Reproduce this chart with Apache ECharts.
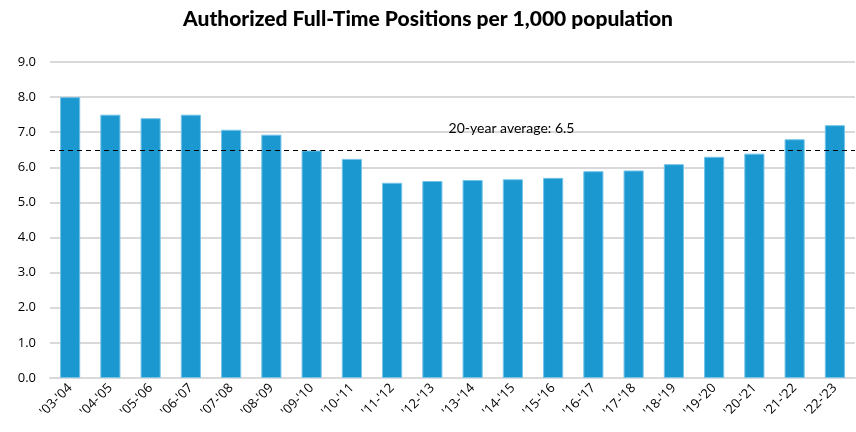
<!DOCTYPE html>
<html><head><meta charset="utf-8">
<script src="https://cdn.jsdelivr.net/npm/echarts@6/dist/echarts.min.js"></script>
<style>html,body{margin:0;padding:0;background:#fff}#c{width:856px;height:432px}</style>
</head><body><div id="c"></div>
<script>
const categories = ["'03-'04","'04-'05","'05-'06","'06-'07","'07-'08","'08-'09","'09-'10","'10-'11","'11-'12","'12-'13","'13-'14","'14-'15","'15-'16","'16-'17","'17-'18","'18-'19","'19-'20","'20-'21","'21-'22","'22-'23"];
const positions = [8.0,7.5,7.4,7.5,7.07,6.93,6.48,6.24,5.56,5.61,5.64,5.66,5.70,5.89,5.91,6.09,6.30,6.39,6.80,7.20];
const average = 6.5;
const averageLabel = "20-year average: 6.5";
const titleText = "Authorized Full-Time Positions per 1,000 population";

const chart = echarts.init(document.getElementById('c'));
chart.setOption({
  animation: false,
  title: {text: titleText, left: 'center', top: 4,
    textStyle: {fontFamily: 'Lato', fontWeight: 900, fontSize: 21, color: '#000'}},
  grid: {left: 50, right: 1, top: 62, bottom: 54},
  xAxis: {type: 'category', data: categories,
    axisLine: {lineStyle: {color: '#d9d9d9', width: 2}},
    axisTick: {show: false},
    axisLabel: {rotate: 45, interval: 0, fontFamily: 'Open Sans', fontSize: 13, color: '#000', margin: 8}},
  yAxis: {type: 'value', min: 0, max: 9, interval: 1,
    axisLine: {show: false}, axisTick: {show: false},
    axisLabel: {formatter: v => v.toFixed(1), fontFamily: 'Open Sans', fontSize: 13, color: '#000', margin: 14},
    splitLine: {lineStyle: {color: '#d9d9d9', width: 2}}},
  series: [{type: 'bar', data: positions, barWidth: '50%',
    itemStyle: {color: '#1b98d0', borderColor: '#74c3e8', borderWidth: 1},
    markLine: {symbol: 'none', silent: true,
      lineStyle: {color: '#000', type: [5, 4], width: 1.2},
      label: {show: true, position: 'insideMiddleTop', formatter: averageLabel, offset: [59, -9],
        fontFamily: 'Lato', fontSize: 14, color: '#000'},
      data: [{yAxis: average}]}}]
});
</script></body></html>
